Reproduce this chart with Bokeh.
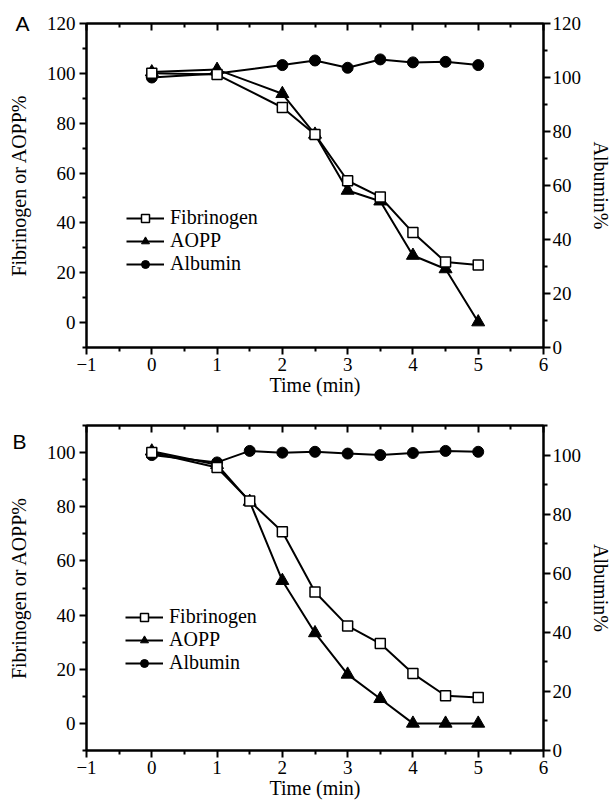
from bokeh.plotting import figure
from bokeh.models import LinearAxis, Range1d, Legend, LegendItem, FixedTicker
from bokeh.layouts import column
from bokeh.embed import file_html
from bokeh.resources import INLINE

# ---------------- data ----------------
time_a = [0, 1, 2, 2.5, 3, 3.5, 4, 4.5, 5]
fib_a = [100, 99.5, 86.3, 75.5, 56.9, 50.4, 36.1, 24.3, 23.1]
aopp_a = [100.5, 101.5, 91.8, 75.5, 53.0, 48.7, 26.9, 21.5, 0.2]
alb_a = [100, 101.5, 104.6, 106.3, 103.6, 106.7, 105.6, 105.8, 104.6]

time_b = [0, 1, 1.5, 2, 2.5, 3, 3.5, 4, 4.5, 5]
fib_b = [100, 94.5, 82.1, 70.8, 48.5, 36.0, 29.5, 18.4, 10.2, 9.6]
aopp_b = [100.5, 95.5, 81.9, 52.7, 33.4, 18.1, 9.1, 0, 0, 0]
alb_b = [100, 97.5, 101.4, 100.8, 101.1, 100.5, 100.0, 100.7, 101.4, 101.1]

x_ticks = [-1, 0, 1, 2, 3, 4, 5, 6]
left_ticks_a = [0, 20, 40, 60, 80, 100, 120]
right_ticks_a = [0, 20, 40, 60, 80, 100, 120]
left_ticks_b = [0, 20, 40, 60, 80, 100]
right_ticks_b = [0, 20, 40, 60, 80, 100]

series_names = ["Fibrinogen", "AOPP", "Albumin"]
panel_labels = ["A", "B"]
left_label = "Fibrinogen or AOPP%"
right_label = "Albumin%"
x_label = "Time (min)"

SERIF = "Liberation Serif"


def style_axis(ax, tick_out=7, tick_in=0, minor_out=4, minor_in=0,
               label_standoff=4, tick_standoff=4):
    ax.axis_line_width = 2
    ax.axis_line_color = "black"
    ax.major_tick_line_width = 2
    ax.minor_tick_line_width = 2
    ax.major_tick_out = tick_out
    ax.major_tick_in = tick_in
    ax.minor_tick_out = minor_out
    ax.minor_tick_in = minor_in
    ax.major_label_text_font = SERIF
    ax.major_label_text_font_size = "19px"
    ax.major_label_text_color = "black"
    ax.major_label_standoff = tick_standoff
    ax.axis_label_text_font = SERIF
    ax.axis_label_text_font_size = "20px"
    ax.axis_label_text_font_style = "normal"
    ax.axis_label_text_color = "black"
    ax.axis_label_standoff = label_standoff


def make_panel(t, fib, aopp, alb, lrange, rrange, lticks, rticks, letter,
               letter_y, letter_standoff, ylabel_standoff,
               height, b_left, b_right, b_top, b_bottom, leg_loc):
    p = figure(width=615, height=height, output_backend="svg",
               toolbar_location=None, x_range=Range1d(-1, 6),
               y_range=Range1d(*lrange), min_border_left=b_left,
               min_border_right=b_right, min_border_top=b_top,
               min_border_bottom=b_bottom)
    p.xgrid.visible = False
    p.ygrid.visible = False
    p.outline_line_color = "black"
    p.outline_line_width = 2
    p.background_fill_color = "white"
    p.border_fill_color = "white"
    p.extra_y_ranges = {"right": Range1d(*rrange)}

    minor_x = [v + 0.5 for v in x_ticks[:-1]]
    p.xaxis.ticker = FixedTicker(ticks=x_ticks, minor_ticks=minor_x)
    p.xaxis.axis_label = x_label
    style_axis(p.xaxis[0], label_standoff=0, tick_standoff=3)

    # main left axis: ticks and tick labels only
    p.yaxis.ticker = FixedTicker(
        ticks=lticks,
        minor_ticks=[v for v in range(int(lrange[0]), int(lrange[1]) + 1, 10)
                     if v not in lticks])
    style_axis(p.yaxis[0], tick_standoff=4)

    # outer left axis: carries the panel letter and the axis title
    outer = LinearAxis(ticker=FixedTicker(ticks=[letter_y]),
                       major_label_overrides={letter_y: letter},
                       axis_label=left_label)
    style_axis(outer, tick_out=0, minor_out=0,
               tick_standoff=letter_standoff, label_standoff=ylabel_standoff)
    outer.axis_line_color = None
    outer.major_tick_line_color = None
    outer.minor_tick_line_color = None
    outer.major_label_text_font = "Liberation Sans"
    outer.major_label_text_font_size = "21px"
    p.add_layout(outer, "left")

    top = LinearAxis(ticker=FixedTicker(ticks=x_ticks, minor_ticks=minor_x),
                     major_label_overrides={v: "" for v in x_ticks})
    style_axis(top, tick_out=0, tick_in=7, minor_out=0, minor_in=4,
               tick_standoff=0, label_standoff=0)
    p.add_layout(top, "above")

    right = LinearAxis(
        y_range_name="right", axis_label=right_label,
        ticker=FixedTicker(
            ticks=rticks,
            minor_ticks=[v for v in range(int(rrange[0]), int(rrange[1]) + 1, 10)
                         if v not in rticks]))
    style_axis(right, label_standoff=6, tick_standoff=2)
    p.add_layout(right, "right")

    lw = 2
    l1 = p.line(t, fib, line_color="black", line_width=lw)
    l2 = p.line(t, aopp, line_color="black", line_width=lw)
    l3 = p.line(t, alb, line_color="black", line_width=lw, y_range_name="right")
    s3 = p.scatter(t, alb, marker="circle", size=11, fill_color="black",
                   line_color="black", y_range_name="right")
    s2 = p.scatter(t, aopp, marker="triangle", size=13, fill_color="black",
                   line_color="black")
    s1 = p.scatter(t, fib, marker="square", size=10, fill_color="white",
                   line_color="black", line_width=1.5)

    legend = Legend(items=[
        LegendItem(label=series_names[0], renderers=[l1, s1]),
        LegendItem(label=series_names[1], renderers=[l2, s2]),
        LegendItem(label=series_names[2], renderers=[l3, s3]),
    ], location=leg_loc)
    legend.background_fill_alpha = 0
    legend.border_line_alpha = 0
    legend.padding = 0
    legend.margin = 0
    legend.spacing = -3
    legend.glyph_width = 38
    legend.glyph_height = 20
    legend.label_height = 20
    legend.label_standoff = 6
    legend.label_text_font = SERIF
    legend.label_text_font_size = "20px"
    legend.label_text_color = "black"
    p.add_layout(legend, "center")
    return p


pA = make_panel(time_a, fib_a, aopp_a, alb_a, (-10, 120), (0, 120),
                left_ticks_a, right_ticks_a, panel_labels[0],
                letter_y=120, letter_standoff=14, ylabel_standoff=-18,
                height=406, b_left=83, b_right=70, b_top=23, b_bottom=59,
                leg_loc=(40, 72))
pB = make_panel(time_b, fib_b, aopp_b, alb_b, (-10, 110), (0, 110),
                left_ticks_b, right_ticks_b, panel_labels[1],
                letter_y=104, letter_standoff=17, ylabel_standoff=-21,
                height=398, b_left=86, b_right=68, b_top=19, b_bottom=54,
                leg_loc=(39, 76))

layout = column(pA, pB, spacing=0)
open("out.html", "w").write(file_html(layout, INLINE))
